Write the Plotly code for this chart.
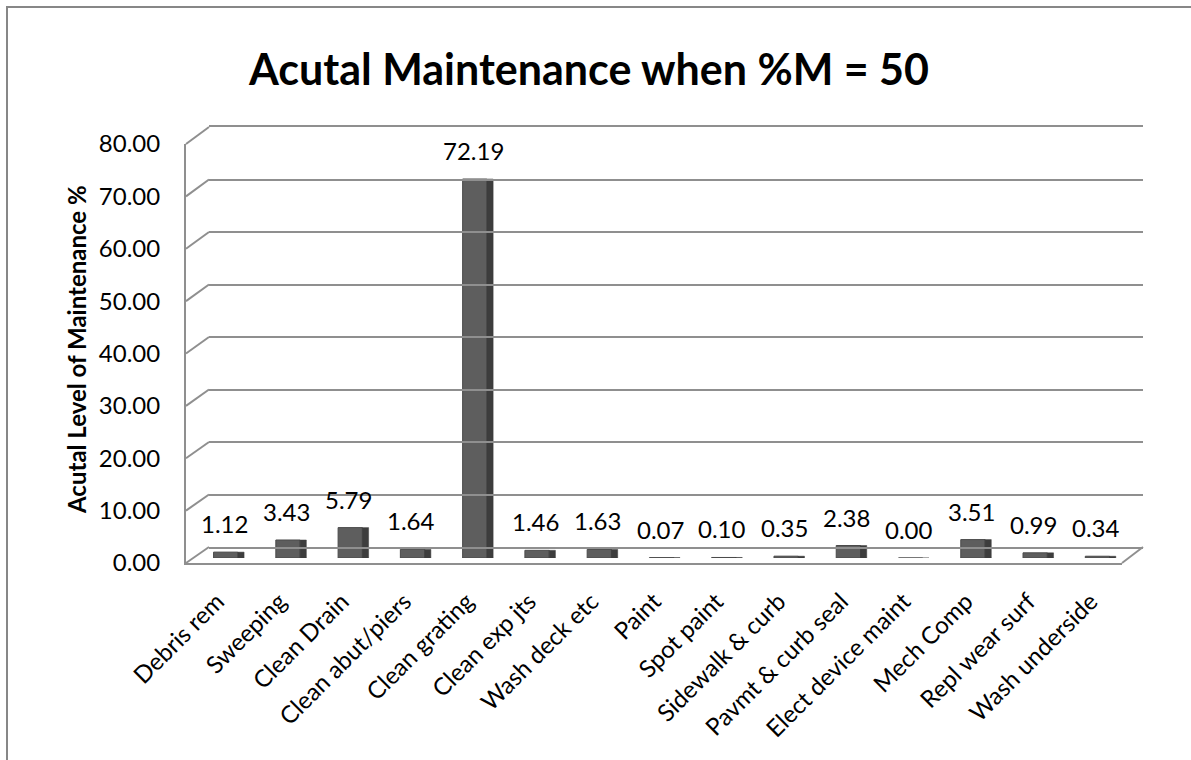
import plotly.graph_objects as go

categories = ["Debris rem", "Sweeping", "Clean Drain", "Clean abut/piers", "Clean grating",
              "Clean exp jts", "Wash deck etc", "Paint", "Spot paint", "Sidewalk & curb",
              "Pavmt & curb seal", "Elect device maint", "Mech Comp", "Repl wear surf", "Wash underside"]
values = [1.12, 3.43, 5.79, 1.64, 72.19, 1.46, 1.63, 0.07, 0.10, 0.35, 2.38, 0.00, 3.51, 0.99, 0.34]
y_ticks = [0, 10, 20, 30, 40, 50, 60, 70, 80]

title_text = "Acutal Maintenance when %M = 50"
y_title = "Acutal Level of Maintenance %"

FONT = "Lato"
W_IMG, H_IMG = 1191, 760
# paper box (pixels)
L, R, T, B = 186, 1143, 127, 563
PW, PH = R - L, B - T


def px(x):
    return (x - L) / PW


def py(y):
    return (B - y) / PH


GRID = "#8f8f8f"

fig = go.Figure()

# front face of bars
fig.add_trace(go.Bar(x=categories, y=values, width=0.39, offset=-0.25,
                     marker=dict(color="#5e5e5e", line=dict(color="#4a4a4a", width=1)),
                     xaxis="x", yaxis="y", hoverinfo="x+y", showlegend=False))
# side face of bars
fig.add_trace(go.Bar(x=categories, y=values, width=0.1, offset=0.14,
                     marker=dict(color="#3d3d3d", line=dict(color="#3d3d3d", width=0.5)),
                     xaxis="x", yaxis="y", hoverinfo="skip", showlegend=False))
# invisible traces to build back wall and front axes
fig.add_trace(go.Scatter(x=categories, y=values, mode="markers", marker=dict(opacity=0),
                         xaxis="x2", yaxis="y2", hoverinfo="skip", showlegend=False))
fig.add_trace(go.Scatter(x=categories, y=values, mode="markers", marker=dict(opacity=0),
                         xaxis="x3", yaxis="y3", hoverinfo="skip", showlegend=False))

cat_range = [-0.5, len(categories) - 0.5]

layout = dict(
    template="none",
    width=W_IMG, height=H_IMG,
    margin=dict(l=L, r=W_IMG - R, t=T, b=H_IMG - B, pad=0),
    paper_bgcolor="white", plot_bgcolor="rgba(0,0,0,0)",
    font=dict(family=FONT, color="black"),
    barmode="overlay",
    showlegend=False,
    title=dict(text="<b>" + title_text + "</b>", x=589 / W_IMG, xref="container",
               y=1 - 70 / H_IMG, yref="container", xanchor="center", yanchor="middle",
               font=dict(family=FONT, size=43, color="black")),
    # main (bars) plane
    xaxis=dict(domain=[px(198), px(1132)], range=cat_range, anchor="y",
               showgrid=False, zeroline=False, showline=False, showticklabels=False,
               ticks="", automargin=False, type="category"),
    yaxis=dict(domain=[py(558), py(138)], range=[0, 80], anchor="x",
               showgrid=False, zeroline=False, showline=False, showticklabels=False,
               ticks="", automargin=False),
    # back wall
    xaxis2=dict(domain=[px(209), px(1143)], range=cat_range, anchor="y2",
                showgrid=False, zeroline=False, showline=True, mirror=True,
                linecolor=GRID, linewidth=2, showticklabels=False,
                ticks="", automargin=False, type="category"),
    yaxis2=dict(domain=[py(547), py(127)], range=[0, 80], anchor="x2",
                tickvals=y_ticks, showgrid=True, gridcolor=GRID, gridwidth=2,
                zeroline=False, showline=False, showticklabels=False, ticks="",
                automargin=False),
    # front plane (labels)
    xaxis3=dict(domain=[px(186), px(1122)], range=cat_range, anchor="y3",
                showgrid=False, zeroline=False, showline=True, linecolor=GRID, linewidth=2,
                tickangle=-45, tickfont=dict(family=FONT, size=24, color="black"),
                ticks="", ticklabelstandoff=13, automargin=False, type="category"),
    yaxis3=dict(domain=[py(563), py(144)], range=[0, 80], anchor="x3",
                tickvals=y_ticks, tickformat=".2f", showgrid=False, zeroline=False,
                showline=True, linecolor=GRID, linewidth=2,
                tickfont=dict(family=FONT, size=24, color="black"),
                ticks="", ticklabelstandoff=19, automargin=False),
)
fig.update_layout(**layout)

shapes = []
# left wall diagonals from front axis to back wall gridlines
for v in y_ticks:
    fy = 563 - v * (563 - 144) / 80
    by = 547 - v * (547 - 127) / 80
    shapes.append(dict(type="line", xref="paper", yref="paper",
                       x0=px(186), y0=py(fy), x1=px(209), y1=py(by),
                       line=dict(color=GRID, width=2)))
# right floor edge
shapes.append(dict(type="line", xref="paper", yref="paper",
                   x0=px(1122), y0=py(563), x1=px(1143), y1=py(547),
                   line=dict(color=GRID, width=2)))
# outer chart border
shapes.append(dict(type="rect", xref="paper", yref="paper",
                   x0=px(7), y0=py(7), x1=px(1240), y1=py(820),
                   line=dict(color="#878787", width=2), fillcolor="rgba(0,0,0,0)", layer="below"))
fig.update_layout(shapes=shapes)

annotations = []
for c, v in zip(categories, values):
    annotations.append(dict(x=c, y=v, xref="x", yref="y", text=f"{v:.2f}",
                            showarrow=False, yanchor="bottom", xanchor="center",
                            yshift=12, xshift=-5,
                            font=dict(family=FONT, size=24, color="black")))
annotations.append(dict(x=px(76), y=py(350), xref="paper", yref="paper",
                        text="<b>" + y_title + "</b>", textangle=-90, showarrow=False,
                        xanchor="center", yanchor="middle",
                        font=dict(family=FONT, size=24, color="black")))
fig.update_layout(annotations=annotations)

fig.write_html("out.html", config={"displayModeBar": False},
               post_script="document.body.style.margin='0px';")
